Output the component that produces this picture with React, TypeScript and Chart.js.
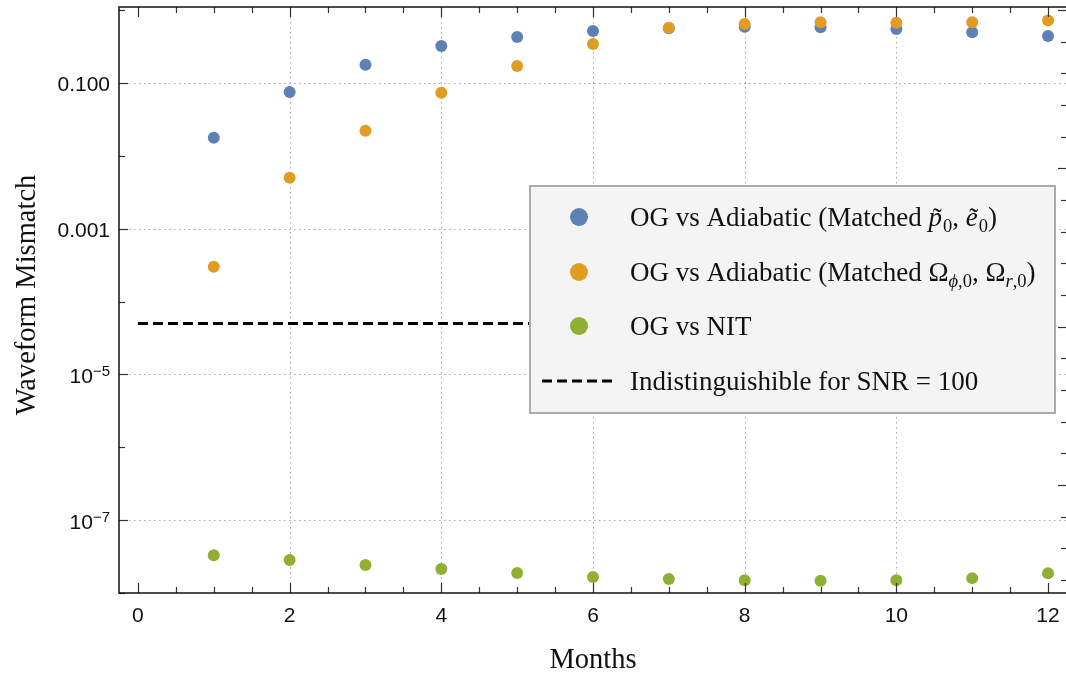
import React, { useEffect, useRef } from "react";
import { Chart, registerables } from "chart.js";

Chart.register(...registerables);

// ---------- data ----------
const months = [1, 2, 3, 4, 5, 6, 7, 8, 9, 10, 11, 12];
const mismatchMatchedPE = [0.0177, 0.075, 0.177, 0.32, 0.427, 0.515, 0.561, 0.59, 0.58, 0.55, 0.495, 0.44];
const mismatchMatchedOmega = [3.0e-4, 0.005, 0.022, 0.073, 0.171, 0.342, 0.57, 0.643, 0.68, 0.67, 0.68, 0.72];
const mismatchNIT = [3.3e-8, 2.83e-8, 2.42e-8, 2.13e-8, 1.88e-8, 1.66e-8, 1.56e-8, 1.5e-8, 1.47e-8, 1.5e-8, 1.6e-8, 1.86e-8];
const thresholdMonths = [0, 12];
const thresholdMismatch = [5e-5, 5e-5];

// ---------- ticks ----------
const xTickValues = [0, 0.5, 1, 1.5, 2, 2.5, 3, 3.5, 4, 4.5, 5, 5.5, 6, 6.5, 7, 7.5, 8, 8.5, 9, 9.5, 10, 10.5, 11, 11.5, 12];
const xLabelValues = [0, 2, 4, 6, 8, 10, 12];
const xLabelTexts = ["0", "2", "4", "6", "8", "10", "12"];
const xGridValues = [2, 4, 6, 8, 10];
const yTickValues = [1e-8, 1e-7, 1e-6, 1e-5, 1e-4, 1e-3, 1e-2, 1e-1, 1];
const yLabelValues = [1e-1, 1e-3, 1e-5, 1e-7];
const yLabelTexts = ["0.100", "0.001", "10^\u22125", "10^\u22127"];
const rightTickValues = [0.41, 1.41, 2.41, 3.41, 4.41, 5.41, 6.41, 7.41, 8.41, 9.41, 10.41, 11.41, 12.41, 13.41, 14.41, 15.41, 16.41, 17.41, 18.41];
const rightLongTicks = [3.41, 8.41, 13.41, 18.41];

const seriesNames = [
  "OG vs Adiabatic (Matched p0, e0)",
  "OG vs Adiabatic (Matched \u03A9\u03D5,0, \u03A9r,0)",
  "OG vs NIT",
  "Indistinguishible for SNR = 100",
];

const BLUE = "#5E81B5";
const ORANGE = "#E19C24";
const GREEN = "#8FB032";

const SERIF = '"Liberation Serif", "Times New Roman", serif';
const SANS = '"Liberation Sans", Arial, sans-serif';

type Seg = { t: string; s: "r" | "i" | "sub" | "subi"; tilde?: boolean };

const legendRows: Seg[][] = [
  [
    { t: "OG vs Adiabatic (Matched ", s: "r" },
    { t: "p", s: "i", tilde: true },
    { t: "0", s: "sub" },
    { t: ", ", s: "r" },
    { t: "e", s: "i", tilde: true },
    { t: "0", s: "sub" },
    { t: ")", s: "r" },
  ],
  [
    { t: "OG vs Adiabatic (Matched \u03A9", s: "r" },
    { t: "\u03D5", s: "subi" },
    { t: ",0", s: "sub" },
    { t: ", \u03A9", s: "r" },
    { t: "r", s: "subi" },
    { t: ",0", s: "sub" },
    { t: ")", s: "r" },
  ],
  [{ t: "OG vs NIT", s: "r" }],
  [{ t: "Indistinguishible for SNR = 100", s: "r" }],
];

const FS = 27;
const SUBFS = 18.5;

function fontFor(s: Seg["s"]) {
  if (s === "r") return `${FS}px ${SERIF}`;
  if (s === "i") return `italic ${FS}px ${SERIF}`;
  if (s === "sub") return `${SUBFS}px ${SERIF}`;
  return `italic ${SUBFS}px ${SERIF}`;
}

function drawRich(ctx: CanvasRenderingContext2D, x: number, baseline: number, segs: Seg[]) {
  let cx = x;
  ctx.textAlign = "left";
  ctx.textBaseline = "alphabetic";
  for (const seg of segs) {
    ctx.font = fontFor(seg.s);
    const isSub = seg.s === "sub" || seg.s === "subi";
    const y = isSub ? baseline + 6 : baseline;
    ctx.fillText(seg.t, cx, y);
    const w = ctx.measureText(seg.t).width;
    if (seg.tilde) {
      ctx.font = `${FS}px ${SERIF}`;
      ctx.textAlign = "center";
      ctx.fillText("\u02DC", cx + w / 2 + 2, y + 1);
      ctx.textAlign = "left";
    }
    cx += w + (seg.s === "i" ? 1 : 0);
  }
}

const decorPlugin = {
  id: "decor",
  beforeDatasetsDraw(chart: any) {
    const { ctx, chartArea: ca, scales } = chart;
    const xs = scales.x;
    const ys = scales.y;
    ctx.save();
    ctx.strokeStyle = "#ababab";
    ctx.lineWidth = 1;
    ctx.setLineDash([1.6, 3.4]);
    for (const v of xGridValues) {
      const px = Math.round(xs.getPixelForValue(v)) + 0.5;
      ctx.beginPath();
      ctx.moveTo(px, ca.top);
      ctx.lineTo(px, ca.bottom);
      ctx.stroke();
    }
    for (const v of yLabelValues) {
      const py = Math.round(ys.getPixelForValue(v)) + 0.5;
      ctx.beginPath();
      ctx.moveTo(ca.left, py);
      ctx.lineTo(ca.right, py);
      ctx.stroke();
    }
    ctx.restore();
  },
  afterDatasetsDraw(chart: any) {
    const { ctx, chartArea: ca, scales } = chart;
    const xs = scales.x;
    const ys = scales.y;
    const y2 = scales.y2;
    ctx.save();
    ctx.setLineDash([]);

    // ticks
    ctx.strokeStyle = "#333";
    ctx.lineWidth = 1.2;
    for (const v of xTickValues) {
      const px = Math.round(xs.getPixelForValue(v)) + 0.5;
      const long = xLabelValues.includes(v);
      const len = long ? 10 : 6;
      ctx.beginPath();
      ctx.moveTo(px, ca.bottom);
      ctx.lineTo(px, ca.bottom - len);
      ctx.moveTo(px, ca.top);
      ctx.lineTo(px, ca.top + len);
      ctx.stroke();
    }
    for (const v of yTickValues) {
      const py = Math.round(ys.getPixelForValue(v)) + 0.5;
      const long = yLabelValues.some((l) => Math.abs(Math.log10(l) - Math.log10(v)) < 1e-6);
      const len = long ? 9 : 6;
      ctx.beginPath();
      ctx.moveTo(ca.left, py);
      ctx.lineTo(ca.left + len, py);
      ctx.stroke();
    }
    for (const v of rightTickValues) {
      const py = Math.round(y2.getPixelForValue(v)) + 0.5;
      const long = rightLongTicks.includes(v);
      const len = long ? 9 : 6;
      ctx.beginPath();
      ctx.moveTo(ca.right, py);
      ctx.lineTo(ca.right - len, py);
      ctx.stroke();
    }

    // frame
    ctx.strokeStyle = "#111";
    ctx.lineWidth = 1.5;
    ctx.beginPath();
    ctx.moveTo(ca.left, ca.top);
    ctx.lineTo(ca.left, ca.bottom);
    ctx.lineTo(ca.right, ca.bottom);
    ctx.lineTo(ca.right, ca.top);
    ctx.closePath();
    ctx.stroke();

    // tick labels
    ctx.fillStyle = "#111";
    ctx.font = `21px ${SANS}`;
    ctx.textAlign = "center";
    ctx.textBaseline = "alphabetic";
    xLabelValues.forEach((v, i) => {
      ctx.fillText(xLabelTexts[i], xs.getPixelForValue(v), ca.bottom + 29);
    });
    const rightX = ca.left - 9;
    yLabelValues.forEach((v, i) => {
      const py = ys.getPixelForValue(v);
      const txt = yLabelTexts[i];
      ctx.textAlign = "left";
      if (txt.includes("^")) {
        const [base, exp] = txt.split("^");
        ctx.font = `15px ${SANS}`;
        const ew = ctx.measureText(exp).width;
        ctx.font = `21px ${SANS}`;
        const bw = ctx.measureText(base).width;
        ctx.fillText(base, rightX - ew - bw, py + 8.5);
        ctx.font = `15px ${SANS}`;
        ctx.fillText(exp, rightX - ew, py + 2);
      } else {
        ctx.font = `21px ${SANS}`;
        const w = ctx.measureText(txt).width;
        ctx.fillText(txt, rightX - w, py + 8);
      }
    });

    // axis titles
    ctx.fillStyle = "#111";
    ctx.font = `28.5px ${SERIF}`;
    ctx.textAlign = "center";
    ctx.textBaseline = "alphabetic";
    ctx.fillText("Months", (ca.left + ca.right) / 2, 668);
    ctx.save();
    ctx.translate(35, 295);
    ctx.rotate(-Math.PI / 2);
    ctx.fillText("Waveform Mismatch", 0, 0);
    ctx.restore();

    // legend
    const lx = 530, ly = 186, lw = 525, lh = 227;
    ctx.fillStyle = "#f4f4f4";
    ctx.fillRect(lx, ly, lw, lh);
    ctx.strokeStyle = "#ababab";
    ctx.lineWidth = 2;
    ctx.strokeRect(lx, ly, lw, lh);
    const rowY = [217, 272, 326, 381];
    const markerColors = [BLUE, ORANGE, GREEN];
    for (let i = 0; i < 4; i++) {
      if (i < 3) {
        ctx.fillStyle = markerColors[i];
        ctx.beginPath();
        ctx.arc(579, rowY[i], 9, 0, Math.PI * 2);
        ctx.fill();
      } else {
        ctx.strokeStyle = "#000";
        ctx.lineWidth = 3;
        ctx.setLineDash([10, 5]);
        ctx.beginPath();
        ctx.moveTo(542, rowY[i]);
        ctx.lineTo(612, rowY[i]);
        ctx.stroke();
        ctx.setLineDash([]);
      }
      ctx.fillStyle = "#111";
      drawRich(ctx, 630, rowY[i] + 9, legendRows[i]);
    }
    ctx.restore();
  },
};

export default function App() {
  const ref = useRef<HTMLCanvasElement | null>(null);
  useEffect(() => {
    if (!ref.current) return;
    const chart = new Chart(ref.current, {
      type: "scatter",
      data: {
        datasets: [
          {
            label: seriesNames[1],
            data: months.map((m, i) => ({ x: m, y: mismatchMatchedOmega[i] })),
            backgroundColor: ORANGE,
            borderWidth: 0,
            pointRadius: 6,
            order: 0,
          },
          {
            label: seriesNames[0],
            data: months.map((m, i) => ({ x: m, y: mismatchMatchedPE[i] })),
            backgroundColor: BLUE,
            borderWidth: 0,
            pointRadius: 6,
            order: 1,
          },
          {
            label: seriesNames[2],
            data: months.map((m, i) => ({ x: m, y: mismatchNIT[i] })),
            backgroundColor: GREEN,
            borderWidth: 0,
            pointRadius: 6,
            order: 2,
          },
          {
            label: seriesNames[3],
            data: thresholdMonths.map((m, i) => ({ x: m, y: thresholdMismatch[i] })),
            showLine: true,
            borderColor: "#000",
            borderWidth: 3,
            borderDash: [10, 5],
            pointRadius: 0,
            order: 3,
          } as any,
        ],
      },
      options: {
        animation: false,
        responsive: false,
        events: [],
        layout: { autoPadding: false, padding: { left: 119, right: 1, top: 7, bottom: 80 } },
        plugins: { legend: { display: false }, tooltip: { enabled: false } },
        scales: {
          x: { type: "linear", min: -0.25, max: 12.25, display: false },
          y: { type: "logarithmic", min: 1e-8, max: 1.1, display: false },
          y2: { type: "linear", min: 0, max: 18.5, display: false, position: "right" },
        },
      },
      plugins: [decorPlugin],
    } as any);
    return () => chart.destroy();
  }, []);
  return (
    <div style={{ position: "fixed", left: 0, top: 0, width: 1068, height: 673, background: "#fff" }}>
      <canvas ref={ref} width={1068} height={673} />
    </div>
  );
}
